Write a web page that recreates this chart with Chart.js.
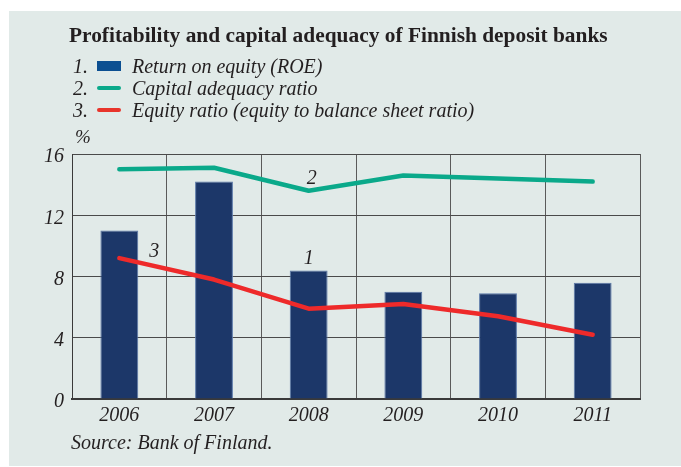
<!DOCTYPE html>
<html>
<head>
<meta charset="utf-8">
<script src="https://cdn.jsdelivr.net/npm/chart.js@4.4.1/dist/chart.umd.min.js"></script>
<style>
  html, body { margin: 0; padding: 0; background: #ffffff; }
  #wrap { position: relative; width: 681px; height: 467px; overflow: hidden; font-family: "Liberation Serif", "DejaVu Serif", serif; color: #231f20; }
  #panel { position: absolute; left: 9px; top: 11px; right: 0; bottom: 1px; background: #e1eae8; }
  #c { position: absolute; left: 0; top: 0; }
  .t { position: absolute; white-space: nowrap; }
  #title { left: 69px; top: 23px; font-size: 21.4px; font-weight: bold; }
  .leg { position: absolute; left: 73px; font-size: 20px; font-style: italic; white-space: nowrap; height: 20px; line-height: 20px; }
  .leg .num { position: absolute; left: 0; top: 0; }
  .leg .sw { position: absolute; left: 24px; }
  .leg .txt { position: absolute; left: 59px; top: 0; }
  #pct { left: 75px; top: 126px; font-size: 19px; font-style: italic; }
  #source { left: 71px; top: 431px; font-size: 20px; font-style: italic; }
  .ann { position: absolute; font-size: 20px; font-style: italic; transform: translate(-50%, -50%); }
</style>
</head>
<body>
<div id="wrap">
  <div id="panel"></div>
  <canvas id="c" width="681" height="467"></canvas>
  <div id="title" class="t">Profitability and capital adequacy of Finnish deposit banks</div>
  <div id="legend"></div>
  <div id="pct" class="t">%</div>
  <div id="source" class="t">Source: Bank of Finland.</div>
  <div id="anns"></div>
</div>
<script>
// ---- Data ----
const years = ['2006', '2007', '2008', '2009', '2010', '2011'];
const roe = [11.0, 14.2, 8.4, 7.0, 6.9, 7.6];
const capitalAdequacy = [15.0, 15.1, 13.6, 14.6, 14.4, 14.2];
const equityRatio = [9.2, 7.8, 5.9, 6.2, 5.4, 4.2];
const yTicks = [0, 4, 8, 12, 16];
const seriesNames = ['Return on equity (ROE)', 'Capital adequacy ratio', 'Equity ratio (equity to balance sheet ratio)'];
const seriesNumbers = ['1.', '2.', '3.'];
const annotationTexts = ['1', '2', '3'];
const annotationYears = ['2008', '2008', '2006'];

// ---- Styles ----
const barColor = '#1c3769';
const greenColor = '#0aa98a';
const redColor = '#ee2a2a';
const legendSwatches = [
  { color: '#0b4f91', kind: 'box' },
  { color: '#0aa98a', kind: 'line' },
  { color: '#e8352b', kind: 'line' }
];

// legend in HTML
const legendEl = document.getElementById('legend');
const legendTops = [55.5, 77.5, 99.5];
seriesNames.forEach((name, i) => {
  const row = document.createElement('div');
  row.className = 'leg';
  row.style.top = legendTops[i] + 'px';
  const sw = legendSwatches[i];
  const swStyle = sw.kind === 'box'
    ? `top:5.5px;width:24px;height:10px;background:${sw.color};`
    : `top:8.5px;width:24px;height:4px;border-radius:2px;background:${sw.color};`;
  row.innerHTML = `<span class="num">${seriesNumbers[i]}</span><span class="sw" style="${swStyle}"></span><span class="txt">${name}</span>`;
  legendEl.appendChild(row);
});

const tickFont = { family: '"Liberation Serif", "DejaVu Serif", serif', size: 20, style: 'italic' };

const annPlugin = {
  id: 'ann',
  afterRender(chart) {
    const host = document.getElementById('anns');
    host.innerHTML = '';
    const xs = chart.scales.x, ys = chart.scales.y;
    const specs = [
      { ds: roe, dx: 0, dy: -13 },
      { ds: capitalAdequacy, dx: 3, dy: -14 },
      { ds: equityRatio, dx: 35, dy: -8 }
    ];
    annotationTexts.forEach((txt, i) => {
      const idx = years.indexOf(annotationYears[i]);
      const s = specs[i];
      const x = xs.getPixelForValue(idx) + s.dx;
      const y = ys.getPixelForValue(s.ds[idx]) + s.dy;
      const d = document.createElement('div');
      d.className = 'ann';
      d.style.left = x + 'px';
      d.style.top = y + 'px';
      d.textContent = txt;
      host.appendChild(d);
    });
  }
};

new Chart(document.getElementById('c'), {
  type: 'bar',
  data: {
    labels: years,
    datasets: [
      { type: 'line', label: seriesNames[2], data: equityRatio, borderColor: redColor, borderWidth: 4.5, pointRadius: 0, tension: 0, order: 0, borderCapStyle: 'round', borderJoinStyle: 'round' },
      { type: 'line', label: seriesNames[1], data: capitalAdequacy, borderColor: greenColor, borderWidth: 4.5, pointRadius: 0, tension: 0, order: 0, borderCapStyle: 'round', borderJoinStyle: 'round' },
      { type: 'bar', label: seriesNames[0], data: roe, backgroundColor: barColor, borderColor: '#5a78a8', borderWidth: 1, categoryPercentage: 1, barPercentage: 0.4, order: 1 }
    ]
  },
  options: {
    responsive: false,
    animation: false,
    devicePixelRatio: 1,
    layout: { padding: { left: 42, top: 154, right: 41, bottom: 38 } },
    plugins: { legend: { display: false }, tooltip: { enabled: false } },
    scales: {
      x: {
        offset: true,
        grid: { display: true, offset: true, color: '#5a5a5a', lineWidth: 1, drawTicks: false },
        border: { display: true, color: '#3a3a3a', width: 2 },
        ticks: { font: tickFont, color: '#231f20', padding: 5, maxRotation: 0 },
        afterFit(s) { s.height = 30; }
      },
      y: {
        min: 0, max: 16,
        afterBuildTicks(s) { s.ticks = yTicks.map(v => ({ value: v })); },
        grid: { color: '#4a4a4a', lineWidth: 1, drawTicks: false },
        border: { display: true, color: '#3a3a3a', width: 1 },
        ticks: { font: tickFont, color: '#231f20', padding: 8, labelOffset: 3 },
        afterFit(s) { s.width = 30; }
      }
    }
  },
  plugins: [annPlugin]
});
</script>
</body>
</html>
